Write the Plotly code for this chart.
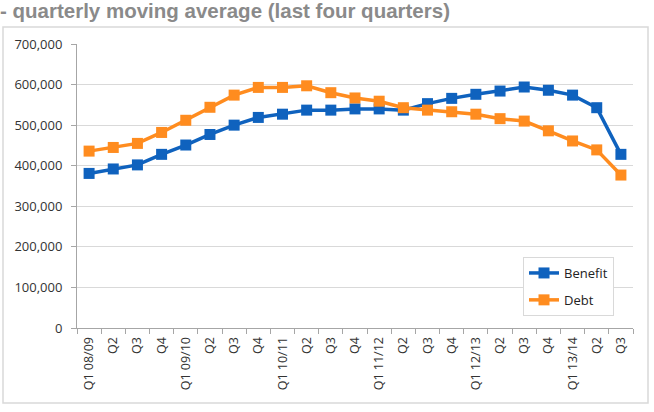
import plotly.graph_objects as go

categories = ["Q1 08/09", "Q2 08/09", "Q3 08/09", "Q4 08/09",
              "Q1 09/10", "Q2 09/10", "Q3 09/10", "Q4 09/10",
              "Q1 10/11", "Q2 10/11", "Q3 10/11", "Q4 10/11",
              "Q1 11/12", "Q2 11/12", "Q3 11/12", "Q4 11/12",
              "Q1 12/13", "Q2 12/13", "Q3 12/13", "Q4 12/13",
              "Q1 13/14", "Q2 13/14", "Q3 13/14"]
tick_labels = ["Q1 08/09", "Q2", "Q3", "Q4", "Q1 09/10", "Q2", "Q3", "Q4",
               "Q1 10/11", "Q2", "Q3", "Q4", "Q1 11/12", "Q2", "Q3", "Q4",
               "Q1 12/13", "Q2", "Q3", "Q4", "Q1 13/14", "Q2", "Q3"]
benefit = [381000, 392000, 402000, 428000, 451000, 477000, 500000, 519000,
           527000, 537000, 537000, 540000, 540000, 537000, 553000, 566000,
           576000, 584000, 594000, 586000, 574000, 543000, 428000]
debt = [436000, 445000, 455000, 482000, 512000, 544000, 574000, 593000,
        593000, 597000, 580000, 567000, 559000, 543000, 537000, 533000,
        527000, 516000, 510000, 486000, 461000, 439000, 377000]

W, H = 654, 412
L, R, T, B = 77, 21, 44, 84
pw, ph = W - L - R, H - T - B

def px(x):
    return (x - L) / pw

def py(y):
    return (H - B - y) / ph

fig = go.Figure()
fig.add_trace(go.Scatter(x=categories, y=benefit, name="Benefit", mode="lines+markers",
                         legendgroup="b",
                         line=dict(color="#0F62BE", width=3.5),
                         marker=dict(symbol="square", size=11, color="#0F62BE")))
fig.add_trace(go.Scatter(x=categories, y=debt, name="Debt", mode="lines+markers",
                         legendgroup="d",
                         line=dict(color="#FF8C1F", width=3.5),
                         marker=dict(symbol="square", size=11, color="#FF8C1F")))

fig.update_layout(
    width=W, height=H,
    margin=dict(l=L, r=R, t=T, b=B),
    paper_bgcolor="white", plot_bgcolor="white",
    font=dict(family="Open Sans, Liberation Sans, sans-serif", size=13, color="#333333"),
    showlegend=True,
    legend=dict(x=px(523), y=py(257), xanchor="left", yanchor="top",
                bgcolor="white", bordercolor="#D9D9D9", borderwidth=1,
                font=dict(size=13, color="#222222"),
                tracegroupgap=7),
    xaxis=dict(type="category", tickmode="array", tickvals=categories, ticktext=tick_labels,
               tickangle=-90, showgrid=False, showline=True, linecolor="#A6A6A6", linewidth=1,
               ticks="outside", tickson="boundaries", ticklen=5, tickcolor="#A6A6A6",
               ticklabelstandoff=3,
               tickfont=dict(size=12.5, color="#333333"), range=[-0.5, 22.5]),
    yaxis=dict(range=[0, 700000], dtick=100000, tickformat=",d", showgrid=True,
               gridcolor="#D9D9D9", gridwidth=1, showline=True, linecolor="#A6A6A6",
               linewidth=1, ticks="outside", ticklen=5, tickcolor="#A6A6A6",
               ticklabelstandoff=6,
               tickfont=dict(size=13, color="#333333"), zeroline=False),
    shapes=[dict(type="rect", xref="paper", yref="paper",
                 x0=px(3), x1=px(648), y0=py(403), y1=py(27),
                 line=dict(color="#D9D9D9", width=1.5), layer="below")],
    annotations=[dict(text="- quarterly moving average (last four quarters)",
                      xref="paper", yref="paper", x=px(-2), y=py(24),
                      xanchor="left", yanchor="bottom", showarrow=False,
                      font=dict(family="Liberation Sans, Arial, sans-serif", size=20.5,
                                color="#8A8A8A", weight="bold"))],
)

fig.write_html("out.html")
